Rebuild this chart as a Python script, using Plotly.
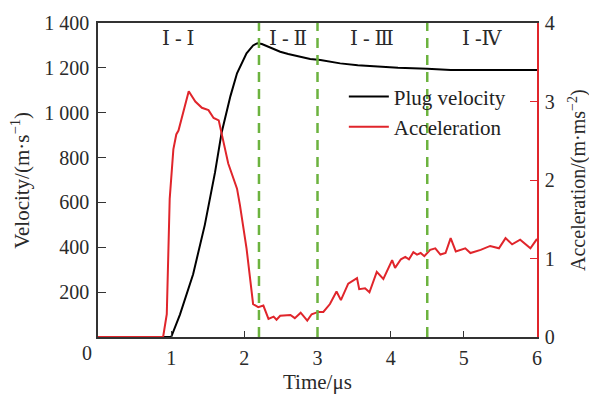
import plotly.graph_objects as go

# Plug velocity (m/s) vs time (μs)
vel_t = [0.0, 1.0, 1.12, 1.30, 1.46, 1.60, 1.69, 1.81, 1.90, 2.03, 2.12, 2.18, 2.24, 2.35, 2.49, 2.60, 2.72, 2.90, 3.04, 3.31, 3.55, 3.77, 4.10, 4.50, 4.82, 5.40, 6.0]
vel_v = [0, 0, 100, 280, 500, 735, 912, 1074, 1176, 1265, 1300, 1310, 1306, 1290, 1272, 1262, 1253, 1240, 1235, 1220, 1212, 1206, 1200, 1196, 1191, 1191, 1190]

# Acceleration (m/ms^2) vs time (μs)
acc_t = [0.0, 0.89, 0.94, 0.98, 1.03, 1.07, 1.10, 1.17, 1.24, 1.33, 1.42, 1.51, 1.58, 1.65, 1.69, 1.78,
         1.90, 1.94, 2.03, 2.08, 2.12, 2.19, 2.26, 2.33, 2.40, 2.44, 2.49, 2.63, 2.69, 2.77, 2.86,
         2.92, 3.01, 3.08, 3.17, 3.26, 3.32, 3.42, 3.48, 3.54, 3.57, 3.65, 3.71, 3.81, 3.90, 4.02,
         4.06, 4.14, 4.20, 4.25, 4.31, 4.36, 4.41, 4.46, 4.54, 4.61, 4.68, 4.75, 4.82, 4.89, 5.02,
         5.09, 5.23, 5.36, 5.48, 5.57, 5.66, 5.77, 5.91, 6.0]
acc_a = [0.0, 0.0, 0.29, 1.76, 2.39, 2.58, 2.63, 2.88, 3.13, 3.00, 2.92, 2.89, 2.79, 2.76, 2.60, 2.21,
         1.89, 1.68, 1.13, 0.71, 0.42, 0.38, 0.40, 0.23, 0.26, 0.22, 0.27, 0.28, 0.24, 0.31, 0.21,
         0.29, 0.32, 0.32, 0.42, 0.58, 0.47, 0.68, 0.72, 0.75, 0.61, 0.62, 0.57, 0.83, 0.74, 0.98,
         0.88, 0.99, 1.02, 0.99, 1.08, 1.05, 1.07, 1.03, 1.11, 1.13, 1.05, 1.07, 1.26, 1.09, 1.13,
         1.07, 1.11, 1.16, 1.13, 1.26, 1.18, 1.24, 1.13, 1.25]

phase_bounds = [2.2, 3.0, 4.5]
phase_labels = ["Ⅰ - Ⅰ", "Ⅰ - Ⅱ", "Ⅰ - Ⅲ", "Ⅰ -Ⅳ"]

x_ticks = [0, 1, 2, 3, 4, 5, 6]
y_ticks = [200, 400, 600, 800, 1000, 1200, 1400]
y_tick_text = ["200", "400", "600", "800", "1 000", "1 200", "1 400"]
y2_ticks = [0, 1, 2, 3, 4]

FONT = "Liberation Serif, DejaVu Serif, Noto Serif CJK SC, serif"
GREEN = "#6cb33f"
RED = "#e0252b"
TXT = "#2a2a2a"

def f(size, color=TXT):
    return dict(family=FONT, size=size, color=color)

fig = go.Figure()
fig.add_trace(go.Scatter(x=vel_t, y=vel_v, mode="lines", name="Plug velocity",
                         line=dict(color="black", width=2)))
fig.add_trace(go.Scatter(x=acc_t, y=acc_a, mode="lines", name="Acceleration", yaxis="y2",
                         line=dict(color=RED, width=2)))

for b in phase_bounds:
    fig.add_shape(type="line", xref="x", yref="paper", x0=b, x1=b, y0=0, y1=1,
                  line=dict(color=GREEN, width=2.5, dash="10px,7px"), layer="above")

edges = [0] + phase_bounds + [6]
for i, lab in enumerate(phase_labels):
    fig.add_annotation(x=(edges[i] + edges[i + 1]) / 2, y=0.953, xref="x", yref="paper",
                       text=lab, showarrow=False, font=f(20), yanchor="middle", xanchor="center")

# x tick "0" shifted left, as in reference
fig.add_annotation(x=0, y=0, xref="x", yref="paper", text="0", showarrow=False,
                   xshift=-11, yshift=-16, yanchor="middle", xanchor="center", font=f(20))

fig.add_annotation(x=-0.178, y=0.5, xref="paper", yref="paper", text="Velocity/(m·s<sup>−1</sup>)",
                   textangle=-90, showarrow=False, font=f(21), xanchor="center", yanchor="middle")
fig.add_annotation(x=1.091, y=0.5, xref="paper", yref="paper", text="Acceleration/(m·ms<sup>−2</sup>)",
                   textangle=-90, showarrow=False, font=f(20), xanchor="center", yanchor="middle")
fig.add_annotation(x=0.5, y=-0.142, xref="paper", yref="paper", text="Time/μs",
                   showarrow=False, yanchor="middle", xanchor="center", font=f(21))

fig.update_layout(
    width=589, height=394,
    margin=dict(l=98, r=52, t=19, b=57),
    paper_bgcolor="white", plot_bgcolor="white",
    font=f(20),
    showlegend=True,
    legend=dict(x=0.56, y=0.83, xanchor="left", yanchor="top", bgcolor="rgba(0,0,0,0)",
                font=f(21, "#222"), tracegroupgap=0, itemwidth=40),
    xaxis=dict(range=[0, 6], tickvals=x_ticks[1:], ticks="inside", ticklen=6, tickwidth=1,
               tickcolor="#333", showline=True, linecolor="#333", linewidth=1.5, mirror=True,
               showgrid=False, zeroline=False, ticklabelstandoff=2, tickfont=f(20)),
    yaxis=dict(range=[0, 1400], tickvals=y_ticks, ticktext=y_tick_text, ticks="inside",
               ticklen=8, tickwidth=1, tickcolor="#333", showline=True, linecolor="#333",
               linewidth=1.5, showgrid=False, zeroline=False, tickfont=f(20), ticklabelstandoff=3),
    yaxis2=dict(range=[0, 4], tickvals=y2_ticks, overlaying="y", side="right", ticks="inside",
                ticklen=7, tickwidth=1, tickcolor=RED, showline=True, linecolor=RED,
                linewidth=1.5, showgrid=False, zeroline=False, tickfont=f(20), ticklabelstandoff=2),
)

fig.write_html("out.html")
